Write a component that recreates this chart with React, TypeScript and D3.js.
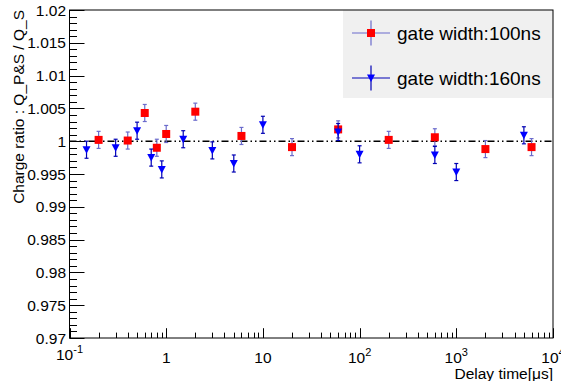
import React, { useRef, useEffect } from 'react';
import * as d3 from 'd3';

// delay times [us] and charge ratios
const delay100 = [0.2, 0.4, 0.6, 0.8, 1, 2, 6, 20, 60, 200, 600, 2000, 6000];
const ratio100 = [1.0002, 1.0001, 1.0043, 0.999, 1.0011, 1.0045, 1.0008, 0.9991, 1.0018, 1.0002, 1.0006, 0.9988, 0.9991];
const err100 = [0.0013, 0.0013, 0.0013, 0.0013, 0.0013, 0.0013, 0.0013, 0.0013, 0.0013, 0.0013, 0.0013, 0.0013, 0.0013];

const delay160 = [0.15, 0.3, 0.5, 0.7, 0.9, 1.5, 3, 5, 10, 60, 100, 600, 1000, 5000];
const ratio160 = [0.9987, 0.999, 1.0016, 0.9975, 0.9957, 1.0003, 0.9986, 0.9966, 1.0025, 1.0014, 0.998, 0.9979, 0.9953, 1.0009];
const err160 = [0.0013, 0.0013, 0.0013, 0.0013, 0.0013, 0.0013, 0.0013, 0.0013, 0.0013, 0.0013, 0.0013, 0.0013, 0.0013, 0.0013];

const seriesNames = ['gate width:100ns', 'gate width:160ns'];

const yTicks = [0.97, 0.975, 0.98, 0.985, 0.99, 0.995, 1, 1.005, 1.01, 1.015, 1.02];
const yTickLabels = ['0.97', '0.975', '0.98', '0.985', '0.99', '0.995', '1', '1.005', '1.01', '1.015', '1.02'];
const xTicks = [0.1, 1, 10, 100, 1000, 10000];
const xTickBase = ['10', '1', '10', '10', '10', '10'];
const xTickExp = ['-1', '', '', '2', '3', '4'];

const W = 561;
const H = 381;
const FONT = '"Liberation Sans", Arial, Helvetica, sans-serif';

const App = () => {
  const svgRef = useRef<SVGSVGElement>(null);

  useEffect(() => {
    const svg = d3.select(svgRef.current);
    svg.selectAll('*').remove();

    const left = 69.5, right = 553, top = 10, bottom = 338;
    const x = d3.scaleLog().domain([0.1, 10000]).range([left, right]);
    const y = d3.scaleLinear().domain([0.97, 1.02]).range([bottom, top]);

    // legend box (drawn first, frame goes over it)
    const lg = { x0: 343, x1: right, y0: top, y1: 98 };
    svg.append('rect')
      .attr('x', lg.x0).attr('y', lg.y0)
      .attr('width', lg.x1 - lg.x0).attr('height', lg.y1 - lg.y0)
      .attr('fill', '#f0f0f0');

    // reference line at 1
    svg.append('line')
      .attr('x1', left).attr('x2', right)
      .attr('y1', y(1)).attr('y2', y(1))
      .attr('stroke', '#000').attr('stroke-width', 1.5)
      .attr('stroke-dasharray', '7,3,1.5,3,1.5,3');

    // frame
    svg.append('rect')
      .attr('x', left).attr('y', top)
      .attr('width', right - left).attr('height', bottom - top)
      .attr('fill', 'none').attr('stroke', '#000').attr('stroke-width', 1);

    // y axis ticks
    const yMinor = d3.range(0, 51).map(i => 0.97 + i * 0.001);
    svg.append('g').selectAll('line')
      .data(yMinor)
      .enter().append('line')
      .attr('x1', left).attr('x2', (d, i) => left + (i % 5 === 0 ? 15 : 7.5))
      .attr('y1', d => Math.round(y(d)) + 0.5).attr('y2', d => Math.round(y(d)) + 0.5)
      .attr('stroke', '#000').attr('stroke-width', 1);

    svg.append('g').selectAll('text')
      .data(yTicks)
      .enter().append('text')
      .attr('x', 66).attr('y', d => y(d) + 5.5)
      .attr('text-anchor', 'end')
      .style('font-family', FONT).style('font-size', '15.5px')
      .text((d, i) => yTickLabels[i]);

    // x axis ticks (log)
    const xMinor: number[] = [];
    for (let e = -1; e < 4; e++) {
      for (let m = 1; m < 10; m++) xMinor.push(m * Math.pow(10, e));
    }
    xMinor.push(10000);
    svg.append('g').selectAll('line')
      .data(xMinor)
      .enter().append('line')
      .attr('x1', d => Math.round(x(d)) + 0.5).attr('x2', d => Math.round(x(d)) + 0.5)
      .attr('y1', bottom)
      .attr('y2', d => {
        const lg10 = Math.log10(d);
        return Math.abs(lg10 - Math.round(lg10)) < 1e-9 ? bottom - 9.8 : bottom - 5.4;
      })
      .attr('stroke', '#000').attr('stroke-width', 1);

    const xl = svg.append('g').selectAll('text')
      .data(xTicks)
      .enter().append('text')
      .attr('x', d => x(d))
      .attr('y', (d, i) => (xTickExp[i] === '-1' ? 360 : 363))
      .attr('text-anchor', 'middle')
      .style('font-family', FONT).style('font-size', '15.5px');
    xl.append('tspan').text((d, i) => xTickBase[i]);
    xl.append('tspan')
      .attr('dy', (d, i) => (xTickExp[i] ? -7 : 0))
      .style('font-size', '11px')
      .text((d, i) => xTickExp[i]);

    // axis titles
    svg.append('text')
      .attr('x', right).attr('y', 379)
      .attr('text-anchor', 'end')
      .style('font-family', FONT).style('font-size', '15.5px')
      .text('Delay time[\u03bcs]');

    svg.append('text')
      .attr('transform', `translate(24,${top}) rotate(-90)`)
      .attr('text-anchor', 'end')
      .style('font-family', FONT).style('font-size', '15.5px')
      .text('Charge ratio : Q_P&S / Q_S');

    // data
    const series = [
      { xs: delay100, ys: ratio100, es: err100, bar: '#6b6bcc', marker: 'square', color: '#ff0000' },
      { xs: delay160, ys: ratio160, es: err160, bar: '#0000b4', marker: 'tri', color: '#0000ff' },
    ];

    const drawMarker = (g: any, kind: string, color: string, cx: number, cy: number) => {
      if (kind === 'square') {
        g.append('rect')
          .attr('x', cx - 4).attr('y', cy - 4)
          .attr('width', 8).attr('height', 8)
          .attr('fill', color);
      } else {
        g.append('path')
          .attr('d', `M${cx - 4},${cy - 3.5}L${cx + 4},${cy - 3.5}L${cx},${cy + 4}Z`)
          .attr('fill', color);
      }
    };

    series.forEach(s => {
      const g = svg.append('g');
      s.xs.forEach((xv, i) => {
        const cx = x(xv);
        const yHi = y(s.ys[i] + s.es[i]);
        const yLo = y(s.ys[i] - s.es[i]);
        g.append('line')
          .attr('x1', cx).attr('x2', cx).attr('y1', yHi).attr('y2', yLo)
          .attr('stroke', s.bar).attr('stroke-width', 1.2);
        [yHi, yLo].forEach(yy => {
          g.append('line')
            .attr('x1', cx - 2).attr('x2', cx + 2).attr('y1', yy).attr('y2', yy)
            .attr('stroke', s.bar).attr('stroke-width', 1.2);
        });
      });
      s.xs.forEach((xv, i) => drawMarker(g, s.marker, s.color, x(xv), y(s.ys[i])));
    });

    // legend entries
    const entryY = [33, 78];
    series.forEach((s, i) => {
      const g = svg.append('g');
      const cy = entryY[i];
      g.append('line')
        .attr('x1', 352).attr('x2', 390).attr('y1', cy).attr('y2', cy)
        .attr('stroke', s.bar).attr('stroke-width', 1.2);
      g.append('line')
        .attr('x1', 371).attr('x2', 371).attr('y1', cy - 12.5).attr('y2', cy + 12.5)
        .attr('stroke', s.bar).attr('stroke-width', 1.2);
      drawMarker(g, s.marker, s.color, 371, cy);
      g.append('text')
        .attr('x', 397).attr('y', cy + 7)
        .style('font-family', FONT).style('font-size', '19px')
        .text(seriesNames[i]);
    });
  }, []);

  return (
    <div style={{ position: 'absolute', left: 0, top: 0, width: W, height: H, background: '#fff' }}>
      <svg ref={svgRef} width={W} height={H} />
    </div>
  );
};

export default App;
